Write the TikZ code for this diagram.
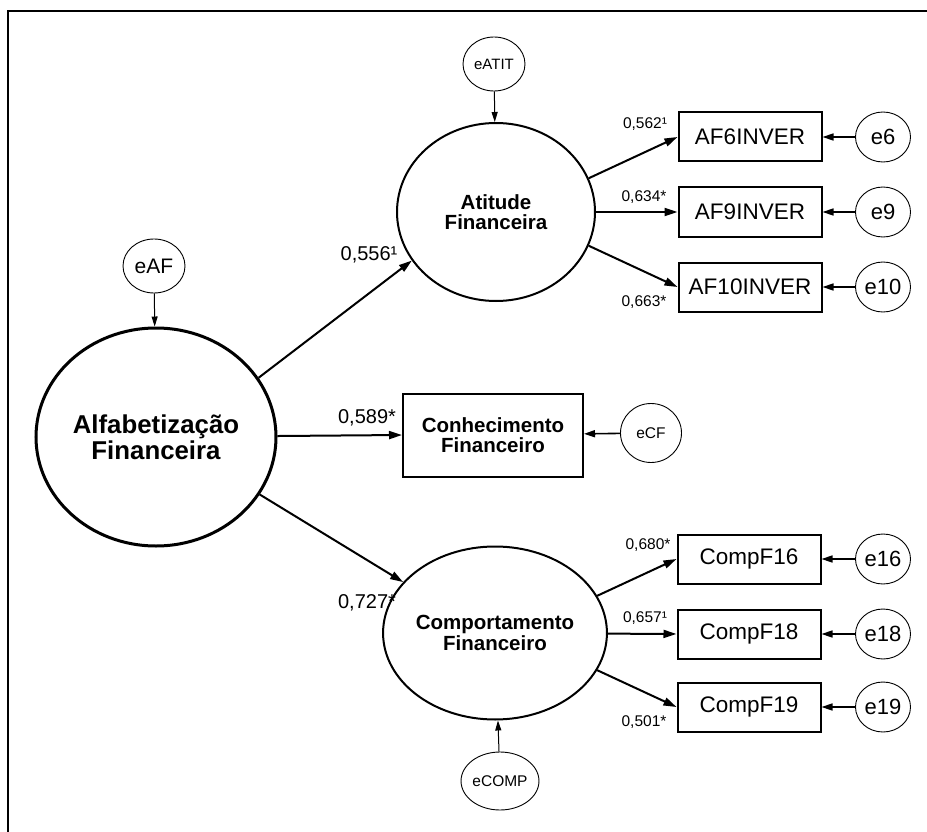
\documentclass[tikz,border=0pt]{standalone}
\usepackage{fontspec}
\setmainfont{Liberation Sans}
\usetikzlibrary{shapes.geometric}
\usetikzlibrary{arrows.meta}
\newcommand{\fsize}[1]{\fontsize{#1}{#1}\selectfont}

\begin{document}
\begin{tikzpicture}[x=1pt, y=-1pt,
		latente/.style={ellipse, draw, line width=2pt, inner sep=0pt, align=center, font=\fsize{20.5}\bfseries},
		erro/.style={ellipse, draw, line width=0.9pt, inner sep=0pt},
		indic/.style={rectangle, draw, line width=2pt, minimum width=143pt, minimum height=49pt, inner sep=0pt, font=\fsize{22.5}},
		carga/.style={-{Triangle[length=13pt,width=8pt]}, line width=2pt},
		resid/.style={-{Triangle[length=10pt,width=6pt]}, line width=1pt},
		residI/.style={-{Triangle[length=11pt,width=7pt]}, line width=1.6pt},
		peso/.style={font=\fsize{15.5}},
		pesoG/.style={font=\fsize{20}}]
		\useasboundingbox (0,0) rectangle (927,832);
		\draw[line width=1.5pt] (8,832) -- (8,11) -- (927,11);
		
		% construtos
		\draw (156,437) node[latente, line width=3pt, minimum width=240pt, minimum height=218pt, font=\fsize{25.8}\bfseries] (AF) {Alfabetização\\Financeira};
		\draw (496,212) node[latente, minimum width=198pt, minimum height=178pt] (AT) {Atitude\\Financeira};
		\draw (495,633) node[latente, minimum width=194pt, minimum height=173pt] (CO) {Comportamento\\Financeiro};
		\draw (493,435) node[rectangle, draw, line width=2pt, minimum width=180pt, minimum height=83pt, align=center, font=\fsize{20.5}\bfseries] (CF) {Conhecimento\\Financeiro};
		
		% erros dos construtos
		\draw (154,266) node[erro, minimum width=62pt, minimum height=54pt, font=\fsize{21}] (eAF) {eAF};
		\draw (494,64) node[erro, minimum width=62pt, minimum height=54pt, font=\fsize{15}] (eATIT) {eATIT};
		\draw (651,433) node[erro, minimum width=61pt, minimum height=59pt, font=\fsize{15.5}] (eCF) {eCF};
		\draw (500,781) node[erro, minimum width=61pt, minimum height=58pt, font=\fsize{15.5}] (eCOMP) {eCOMP};
		
		% indicadores
		\draw (750,137) node[indic] (AF6) {AF6INVER};
		\draw (750,212) node[indic] (AF9) {AF9INVER};
		\draw (750,287) node[indic] (AF10) {AF10INVER};
		\draw (749,559) node[indic] (CF16) {CompF16};
		\draw (749,634) node[indic] (CF18) {CompF18};
		\draw (749,707) node[indic] (CF19) {CompF19};
		
		\draw (883,137) node[erro, minimum width=55pt, minimum height=50pt, font=\fsize{22}] (e6) {e6};
		\draw (883,212) node[erro, minimum width=55pt, minimum height=50pt, font=\fsize{22}] (e9) {e9};
		\draw (883,287) node[erro, minimum width=55pt, minimum height=50pt, font=\fsize{22}] (e10) {e10};
		\draw (883,559) node[erro, minimum width=55pt, minimum height=50pt, font=\fsize{22}] (e16) {e16};
		\draw (883,634) node[erro, minimum width=55pt, minimum height=50pt, font=\fsize{22}] (e18) {e18};
		\draw (883,707) node[erro, minimum width=55pt, minimum height=50pt, font=\fsize{22}] (e19) {e19};
		
		% caminhos estruturais
		\draw[carga] (AF.30) -- (AT.210);
		\draw[carga] (AF) -- (CF.west);
		\draw[carga] (AF.-29) -- (CO.151);
		\draw (369,255) node[pesoG] (pAT) {0,556¹};
		\draw (367,418) node[pesoG] (pCF) {0,589*};
		\draw (367,603) node[pesoG] (pCO) {0,727*};
		
		% cargas
		\draw[carga] (AT.20) -- (AF6.west);
		\draw[carga] (AT) -- (AF9.west);
		\draw[carga] (AT.-20) -- (AF10.west);
		\draw[carga] (CO.20) -- (CF16.west);
		\draw[carga] (CO) -- (CF18.west);
		\draw[carga] (CO.-20) -- (CF19.west);
		\draw (645,124) node[peso] (p6) {0,562¹};
		\draw (644,197) node[peso] (p9) {0,634*};
		\draw (644,302) node[peso] (p10) {0,663*};
		\draw (648,545) node[peso] (p16) {0,680*};
		\draw (645,618) node[peso] (p18) {0,657¹};
		\draw (644,722) node[peso] (p19) {0,501*};
		
		% residuos
		\draw[resid] (eAF) -- (AF);
		\draw[resid] (eATIT) -- (AT);
		\draw[residI] (eCF) -- (CF);
		\draw[resid] (eCOMP) -- (CO);
		\draw[residI] (e6) -- (AF6);
		\draw[residI] (e9) -- (AF9);
		\draw[residI] (e10) -- (AF10);
		\draw[residI] (e16) -- (CF16);
		\draw[residI] (e18) -- (CF18);
		\draw[residI] (e19) -- (CF19);
	\end{tikzpicture}
\end{document}
